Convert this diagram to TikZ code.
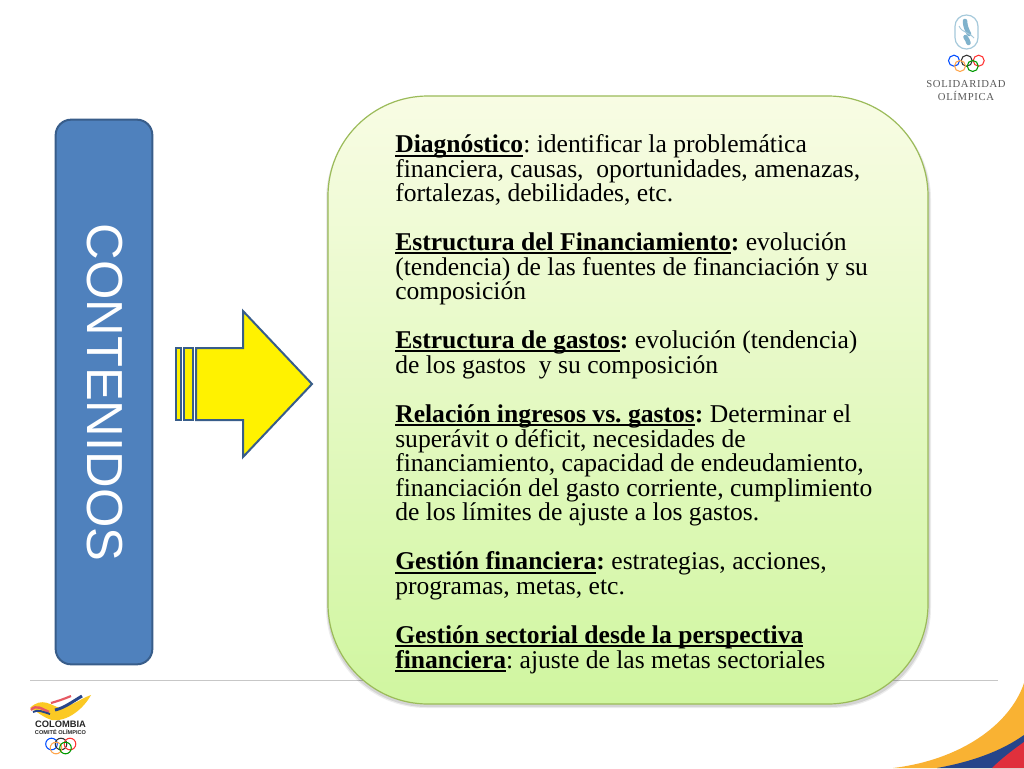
\documentclass[tikz,border=0pt]{standalone}
\usepackage{fontspec}
\usetikzlibrary{positioning}
\setmainfont{Liberation Serif}
\newfontfamily\logosans{Liberation Sans}
\newfontfamily\logoserif[LetterSpace=6]{Liberation Serif}
\definecolor{boxblue}{HTML}{4F81BD}
\definecolor{boxedge}{HTML}{385D8A}
\definecolor{greenedge}{HTML}{9BBB59}
\definecolor{greentop}{HTML}{F8FCE4}
\definecolor{greenbottom}{HTML}{D0F6A0}
\definecolor{swyellow}{HTML}{F9B233}
\definecolor{swblue}{HTML}{26458A}
\definecolor{swred}{HTML}{E0303C}
\definecolor{logoblue}{HTML}{7FB2CC}
\newsavebox{\headbox}
\newcommand{\head}[1]{\sbox{\headbox}{\textbf{#1}}\rlap{\rule[-2.8pt]{\wd\headbox}{1.4pt}}\usebox{\headbox}}
\newcommand{\parafont}{\fontsize{19.2}{18.4}\selectfont\frenchspacing\lineskiplimit=-20pt\relax}
\begin{document}
\begin{tikzpicture}[x=0.75pt, y=-0.75pt,
    para/.style = {anchor=north west, align=left, inner sep=0pt, font=\parafont},
    ringthin/.style = {line width=0.8pt}]
    \useasboundingbox (0,0) rectangle (1024,768);
    \fill[white] (0,0) rectangle (1024,768);
    % rule and corner
    \draw[draw=black!22, line width=0.8pt] (30,680.5) -- (998,680.5);
    \fill[swyellow] (1024,683) .. controls (1010,725) and (960,760) .. (893,768) -- (1024,768) -- cycle;
    \fill[swblue] (1024,735) .. controls (1000,752) and (970,762) .. (937,768) -- (1024,768) -- cycle;
    \fill[swred] (1024,742) .. controls (1010,752) and (1000,760) .. (992,768) -- (1024,768) -- cycle;
    % left box
    \node[draw=boxedge, fill=boxblue, line width=1.5pt, rounded corners=11.5pt, minimum width=72.5pt, minimum height=408.5pt, inner sep=0pt] (contbox) at (104,392) {};
    \node[rotate=-90, text=white, font=\logosans\fontsize{38}{38}\selectfont] (conttext) at (104.5,392.5) {CONTENIDOS};
    % arrow
    \draw[draw=boxedge, fill=yellow, line width=1.5pt, line join=miter] (196,348) -- (243,348) -- (243,311) -- (312,384) -- (243,457) -- (243,420) -- (196,420) -- cycle;
    \draw[draw=boxedge, fill=yellow, line width=1.5pt] (176,348) rectangle (181,420);
    \draw[draw=boxedge, fill=yellow, line width=1.5pt] (184,348) rectangle (193,420);
    % green box
    \fill[black, opacity=0.07, rounded corners=75pt] (326,99) rectangle (931,708);
    \fill[black, opacity=0.10, rounded corners=75pt] (327,99) rectangle (930,707);
    \node[draw=greenedge, top color=greentop, bottom color=greenbottom, line width=0.9pt, rounded corners=75pt, minimum width=450pt, minimum height=456pt, inner sep=0pt] (greenbox) at (628,400) {};
    \node[para] (p1) at (395,134.5) {\strut\head{Diagnóstico}: identificar la problemática\\financiera, causas,\ \ oportunidades, amenazas,\\fortalezas, debilidades, etc.};
    \node[para] (p2) at (395,232.5) {\strut\head{Estructura del Financiamiento}\textbf{:} evolución\\(tendencia) de las fuentes de financiación y su\\composición};
    \node[para] (p3) at (395,330.5) {\strut\head{Estructura de gastos}\textbf{:} evolución (tendencia)\\de los gastos\ \ y su composición};
    \node[para] (p4) at (395,404.5) {\strut\head{Relación ingresos vs. gastos}\textbf{:} Determinar el\\superávit o déficit, necesidades de\\financiamiento, capacidad de endeudamiento,\\financiación del gasto corriente, cumplimiento\\de los límites de ajuste a los gastos.};
    \node[para] (p5) at (395,551.5) {\strut\head{Gestión financiera}\textbf{:} estrategias, acciones,\\programas, metas, etc.};
    \node[para] (p6) at (395,625.5) {\strut\head{Gestión sectorial desde la perspectiva}\\\head{financiera}: ajuste de las metas sectoriales};
    % logo top right
    \draw[draw=logoblue!70, line width=0.9pt, rounded corners=8.5pt] (955,15) rectangle (978,49);
    \draw[draw=logoblue, line width=3.4pt, line cap=round] (965,21) .. controls (965,26) and (967,30) .. (969,34);
    \draw[draw=logoblue, line width=3.4pt, line cap=round] (965.5,37) .. controls (967,39) and (968,41) .. (968.5,43);
    \draw[draw=logoblue!70, line width=0.7pt] (959,26) .. controls (962,33) and (971,33) .. (974,38);
    \foreach \cx/\cy/\cc in {954/60.7/blue!70!cyan, 966.7/60.7/black!80, 978.7/60.7/red!80, 960/66/orange!70, 972.7/66/green!60!black}
        \draw[draw=\cc, ringthin] (\cx,\cy) circle (5.5);
    \node[text=black!65, font=\logoserif\fontsize{8}{8}\selectfont, inner sep=0pt] (sol1) at (966,84) {SOLIDARIDAD};
    \node[text=black!65, font=\logoserif\fontsize{8}{8}\selectfont, inner sep=0pt] (sol2) at (966,95.5) {OLÍMPICA};
    % logo bottom left
    \fill[swyellow!70!yellow] (30,708) .. controls (42,696) and (52,706) .. (60,708) .. controls (72,706) and (82,698) .. (91,695) .. controls (84,708) and (68,722) .. (52,720) .. controls (44,718) and (38,712) .. (30,708) -- cycle;
    \draw[draw=swred!80, line width=1.8pt] (31,710) .. controls (36,704) and (42,709) .. (49,712);
    \draw[draw=swblue, line width=1.4pt] (33,712) .. controls (38,709) and (43,712) .. (50,714);
    \draw[draw=swred!80, line width=1.6pt] (51,703) .. controls (58,701) and (64,699) .. (71,696);
    \draw[draw=swblue, line width=2.2pt] (55,710) .. controls (64,708) and (72,702) .. (82,696);
    \node[text=black!85, font=\logosans\bfseries\fontsize{7}{7}\selectfont, inner sep=0pt] (col1) at (60.5,724) {COLOMBIA};
    \node[text=black!85, font=\logosans\bfseries\fontsize{4.2}{4.2}\selectfont, inner sep=0pt] (col2) at (60.5,732.5) {COMITÉ OLÍMPICO};
    \foreach \cx/\cy/\cc in {51.5/744/blue!70!cyan, 61/744/black!80, 70/744/red!80, 56/748/orange!70, 65.5/748/green!60!black}
        \draw[draw=\cc, ringthin] (\cx,\cy) circle (5.8);
\end{tikzpicture}
\end{document}
